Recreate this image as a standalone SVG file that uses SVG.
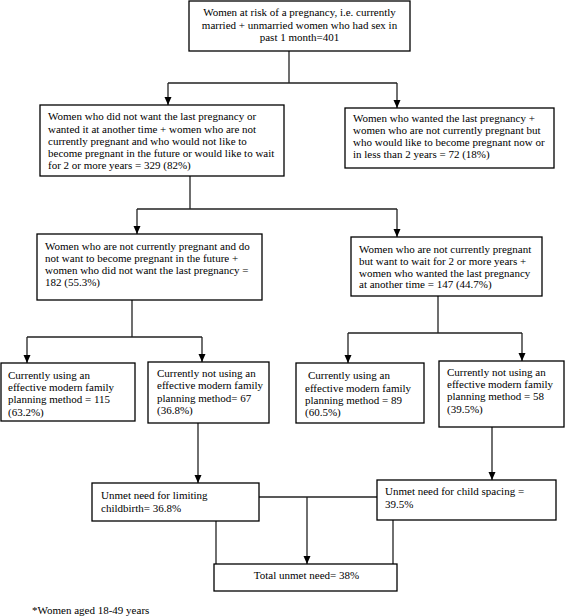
<svg xmlns="http://www.w3.org/2000/svg" width="567" height="616" viewBox="0 0 567 616">
<style>
  .box { fill: #fff; stroke: #000; stroke-width: 1.3; }
  .t { font-family: "Liberation Serif", "Times New Roman", serif; font-size: 11px; fill: #000; }
  .c { text-anchor: middle; }
  .ln { fill: none; stroke: #222; stroke-width: 1.3; }
</style>
<defs>
  <marker id="ah" markerUnits="userSpaceOnUse" markerWidth="8" markerHeight="8" refX="8" refY="3.5" orient="auto">
    <path d="M0,0 L8,3.5 L0,7 z" fill="#000"/>
  </marker>
</defs>
<rect width="567" height="616" fill="#fff"/>

<g id="connectors">
  <path class="ln" d="M289,51 V83 M168,83 H397"/>
  <path class="ln" d="M168,83 V105" marker-end="url(#ah)"/>
  <path class="ln" d="M397,83 V108" marker-end="url(#ah)"/>
  <path class="ln" d="M190,176 V209 M137,209 H397"/>
  <path class="ln" d="M137,209 V234" marker-end="url(#ah)"/>
  <path class="ln" d="M397,209 V237" marker-end="url(#ah)"/>
  <path class="ln" d="M132,300 V337 M27,337 H202"/>
  <path class="ln" d="M27,337 V363" marker-end="url(#ah)"/>
  <path class="ln" d="M202,337 V362" marker-end="url(#ah)"/>
  <path class="ln" d="M438,296 V333 M348,333 H522"/>
  <path class="ln" d="M348,333 V363" marker-end="url(#ah)"/>
  <path class="ln" d="M522,333 V361" marker-end="url(#ah)"/>
  <path class="ln" d="M198,423 V483" marker-end="url(#ah)"/>
  <path class="ln" d="M492,427 V480" marker-end="url(#ah)"/>
  <path class="ln" d="M259,497 H377"/>
  <path class="ln" d="M307,497 V564" marker-end="url(#ah)"/>
  <path class="ln" d="M216,521 V564"/>
  <path class="ln" d="M393,520 V564"/>
</g>

<g id="n_top">
  <rect class="box" x="189" y="1" width="221" height="50"/>
  <text class="t c" x="299.5" y="16">Women at risk of a pregnancy, i.e. currently</text>
  <text class="t c" x="299.5" y="28.5">married + unmarried women who had sex in</text>
  <text class="t c" x="299.5" y="41">past 1 month=401</text>
</g>

<g id="n_notwant">
  <rect class="box" x="40" y="105" width="244" height="71"/>
  <text class="t" x="48" y="120.2">Women who did not want the last pregnancy or</text>
  <text class="t" x="48" y="132.5">wanted it at another time + women who are not</text>
  <text class="t" x="48" y="144.8">currently pregnant and who would not like to</text>
  <text class="t" x="48" y="157.1">become pregnant in the future or would like to wait</text>
  <text class="t" x="48" y="169.4">for 2 or more years = 329 (82%)</text>
</g>

<g id="n_wanted">
  <rect class="box" x="345" y="108" width="209" height="60"/>
  <text class="t" x="353" y="121.8">Women who wanted the last pregnancy +</text>
  <text class="t" x="353" y="133.9">women who are not currently pregnant but</text>
  <text class="t" x="353" y="146">who would like to become pregnant now or</text>
  <text class="t" x="353" y="158">in less than 2 years = 72 (18%)</text>
</g>

<g id="n_limit">
  <rect class="box" x="37" y="234" width="225" height="66"/>
  <text class="t" x="45" y="249.5">Women who are not currently pregnant and do</text>
  <text class="t" x="45" y="261.7">not want to become pregnant in the future +</text>
  <text class="t" x="45" y="273.8">women who did not want the last pregnancy =</text>
  <text class="t" x="45" y="285.5">182 (55.3%)</text>
</g>

<g id="n_space">
  <rect class="box" x="351" y="237" width="191" height="59"/>
  <text class="t" x="359" y="253">Women who are not currently pregnant</text>
  <text class="t" x="359" y="264.8">but want to wait for 2 or more years +</text>
  <text class="t" x="359" y="276.8">women who wanted the last pregnancy</text>
  <text class="t" x="359" y="288.3">at another time = 147 (44.7%)</text>
</g>

<g id="n_use115">
  <rect class="box" x="1" y="363" width="134" height="58"/>
  <text class="t" x="8" y="378.5">Currently using an</text>
  <text class="t" x="8" y="391">effective modern family</text>
  <text class="t" x="8" y="403">planning method = 115</text>
  <text class="t" x="8" y="415.5">(63.2%)</text>
</g>

<g id="n_notuse67">
  <rect class="box" x="148" y="362" width="121" height="61"/>
  <text class="t" x="157" y="376.7">Currently not using an</text>
  <text class="t" x="157" y="389.3">effective modern family</text>
  <text class="t" x="157" y="401.5">planning method= 67</text>
  <text class="t" x="157" y="414">(36.8%)</text>
</g>

<g id="n_use89">
  <rect class="box" x="296" y="363" width="128" height="60"/>
  <text class="t" x="308" y="378.5">Currently using an</text>
  <text class="t" x="305" y="391.5">effective modern family</text>
  <text class="t" x="305" y="403.5">planning method = 89</text>
  <text class="t" x="305" y="416">(60.5%)</text>
</g>

<g id="n_notuse58">
  <rect class="box" x="439" y="361" width="125" height="66"/>
  <text class="t" x="447" y="376">Currently not using an</text>
  <text class="t" x="447" y="388">effective modern family</text>
  <text class="t" x="447" y="400.3">planning method = 58</text>
  <text class="t" x="447" y="412.5">(39.5%)</text>
</g>

<g id="n_unmet_limit">
  <rect class="box" x="92" y="483" width="167" height="38"/>
  <text class="t" x="101" y="499.3">Unmet need for limiting</text>
  <text class="t" x="101" y="511.8">childbirth= 36.8%</text>
</g>

<g id="n_unmet_space">
  <rect class="box" x="377" y="480" width="179" height="40"/>
  <text class="t" x="385" y="494.8">Unmet need for child spacing =</text>
  <text class="t" x="385" y="508">39.5%</text>
</g>

<g id="n_total">
  <rect class="box" x="214" y="564" width="183" height="27"/>
  <text class="t c" x="306.5" y="579.3">Total unmet need= 38%</text>
</g>

<g id="footnote">
  <text class="t" x="32" y="613.5">*Women aged 18-49 years</text>
</g>
</svg>
